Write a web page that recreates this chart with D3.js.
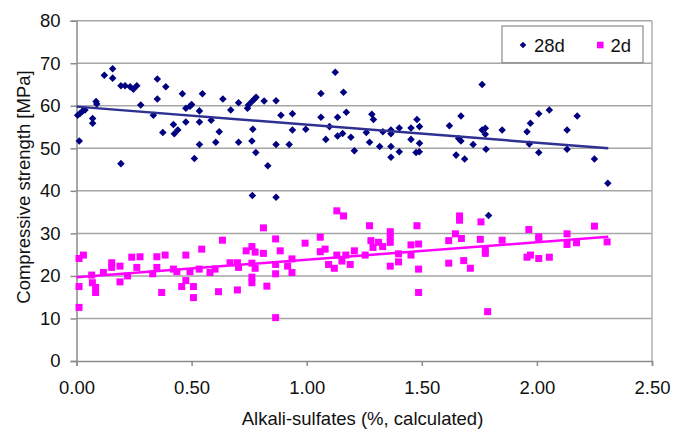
<!DOCTYPE html>
<html lang="en">
<head>
<meta charset="utf-8">
<script src="https://d3js.org/d3.v7.min.js"></script>
<style>
  body { margin: 0; background: #fff; }
  text { font-family: "Liberation Sans", Arial, sans-serif; fill: #111; }
</style>
<title>Compressive strength</title>
</head>
<body>
<div id="chart"></div>
<script>
// 28d compressive strength [alkali-sulfates %, MPa]
var strength28 = [
  [0.005,57.8],[0.015,58.2],[0.027,58.8],[0.037,59.0],[0.012,51.7],[0.07,57.0],[0.07,55.9],
  [0.085,61.0],[0.088,60.4],[0.121,67.2],[0.157,68.7],[0.157,66.5],[0.193,64.7],[0.211,64.7],
  [0.193,46.4],[0.233,64.5],[0.247,63.9],[0.262,64.7],[0.279,60.2],[0.334,57.8],[0.351,66.3],
  [0.351,61.6],[0.375,53.7],[0.388,64.5],[0.421,55.6],[0.425,53.4],[0.44,54.3],[0.46,62.8],
  [0.475,59.4],[0.475,56.2],[0.493,59.9],[0.50,60.3],[0.512,47.6],[0.534,58.8],[0.534,56.2],
  [0.534,50.9],[0.547,62.8],[0.585,56.6],[0.605,51.4],[0.62,53.9],[0.636,61.6],[0.67,59.0],
  [0.704,60.7],[0.704,51.4],[0.743,59.4],[0.747,60.2],[0.762,61.0],[0.773,61.6],[0.78,62.0],
  [0.766,54.5],[0.762,51.7],[0.779,49.0],[0.764,38.9],[0.815,61.1],[0.831,45.9],[0.867,61.2],
  [0.888,57.8],[0.867,50.9],[0.867,38.5],[0.924,50.9],[0.938,58.1],[0.938,54.3],[0.996,54.5],
  [1.062,62.9],[1.062,57.3],[1.083,52.1],[1.099,55.1],[1.124,67.9],[1.16,63.2],[1.134,57.3],
  [1.172,58.5],[1.134,52.9],[1.156,53.5],[1.192,52.6],[1.207,49.4],[1.259,53.7],[1.273,51.4],
  [1.283,58.0],[1.29,56.8],[1.317,50.4],[1.331,53.9],[1.366,54.3],[1.366,53.4],[1.366,50.4],
  [1.366,47.9],[1.402,54.8],[1.402,49.2],[1.453,54.8],[1.453,52.1],[1.479,56.8],[1.49,55.1],
  [1.49,51.2],[1.475,49.0],[1.489,49.2],[1.62,55.3],[1.67,57.6],[1.67,51.7],[1.66,52.3],
  [1.649,48.4],[1.686,47.5],[1.723,50.9],[1.762,65.0],[1.762,54.3],[1.776,54.7],[1.776,53.3],
  [1.779,49.8],[1.79,34.2],[1.849,54.3],[1.957,53.9],[1.972,55.9],[1.967,51.0],[2.008,58.1],
  [2.054,59.0],[2.008,49.0],[2.131,54.3],[2.131,49.8],[2.175,57.6],[2.25,47.5],[2.308,41.8]
];

// 2d compressive strength
var strength2 = [
  [0.011,24.1],[0.03,24.9],[0.011,17.5],[0.011,12.6],[0.066,20.2],[0.069,18.4],[0.083,17.3],
  [0.083,16.1],[0.117,20.8],[0.153,23.1],[0.153,22.0],[0.189,22.3],[0.189,18.6],[0.222,20.0],
  [0.24,24.4],[0.262,22.0],[0.276,24.5],[0.331,20.5],[0.349,24.5],[0.349,22.0],[0.37,16.1],
  [0.385,24.9],[0.421,21.6],[0.436,21.0],[0.457,17.5],[0.475,24.9],[0.475,18.9],[0.493,21.0],
  [0.508,17.5],[0.508,14.9],[0.533,21.6],[0.544,26.3],[0.58,20.8],[0.602,21.6],[0.617,16.3],
  [0.634,28.4],[0.667,23.1],[0.699,23.1],[0.704,22.0],[0.699,16.7],[0.737,25.9],[0.762,26.9],
  [0.776,25.6],[0.762,23.0],[0.776,21.8],[0.762,19.7],[0.762,18.4],[0.812,31.3],[0.812,25.3],
  [0.827,17.6],[0.865,28.7],[0.885,25.9],[0.865,22.7],[0.865,20.5],[0.865,10.2],[0.917,22.3],
  [0.936,24.0],[0.936,20.8],[0.993,27.7],[1.059,29.1],[1.059,25.7],[1.08,26.3],[1.095,22.7],
  [1.12,21.8],[1.131,35.3],[1.16,34.1],[1.131,24.9],[1.153,23.5],[1.17,24.9],[1.189,22.7],
  [1.207,25.9],[1.254,24.9],[1.273,31.8],[1.279,28.3],[1.288,26.7],[1.312,27.9],[1.33,26.9],
  [1.363,30.4],[1.363,29.2],[1.363,27.9],[1.363,22.3],[1.399,25.2],[1.399,23.3],[1.453,27.3],
  [1.453,24.9],[1.479,31.8],[1.486,27.5],[1.486,21.6],[1.486,16.1],[1.617,28.3],[1.617,23.0],
  [1.646,29.9],[1.664,34.1],[1.664,33.1],[1.672,28.8],[1.682,23.6],[1.711,21.8],[1.757,32.7],
  [1.754,28.6],[1.776,26.3],[1.776,25.3],[1.786,11.6],[1.849,28.4],[1.965,30.9],[1.957,24.4],
  [1.972,24.9],[2.008,29.2],[2.008,28.6],[2.008,24.1],[2.054,24.4],[2.131,29.9],[2.131,27.4],
  [2.172,27.8],[2.25,31.7],[2.305,28.0]
];

// linear trend lines (end points)
var trend28 = [[0, 59.8], [2.31, 50.0]];
var trend2 = [[0, 19.7], [2.31, 29.2]];

var xTicks = [0, 0.5, 1, 1.5, 2, 2.5];
var yTicks = [0, 10, 20, 30, 40, 50, 60, 70, 80];
var seriesNames = ["28d", "2d"];

var W = 673, H = 429;
var plotL = 76.5, plotR = 652, plotT = 20.7, plotB = 361;

var svg = d3.select("#chart").append("svg")
    .attr("width", W)
    .attr("height", H);

var x = d3.scaleLinear().domain([0, 2.5]).range([plotL, plotR]);
var y = d3.scaleLinear().domain([0, 80]).range([plotB, plotT]);

// gridlines
svg.append("g")
  .selectAll("line")
  .data(yTicks.slice(1))
  .enter().append("line")
    .attr("x1", plotL).attr("x2", plotR)
    .attr("y1", d => y(d)).attr("y2", d => y(d))
    .attr("stroke", "#a6a6a6")
    .attr("stroke-width", 1.5);

// right border
svg.append("line")
  .attr("x1", plotR).attr("x2", plotR)
  .attr("y1", plotT).attr("y2", plotB)
  .attr("stroke", "#b0b0b0").attr("stroke-width", 1.5);

// axes
var yAxis = svg.append("g")
  .attr("transform", "translate(" + plotL + ",0)")
  .call(d3.axisLeft(y).tickValues(yTicks).tickSize(6).tickPadding(10).tickFormat(d3.format("d")));
var xAxis = svg.append("g")
  .attr("transform", "translate(0," + plotB + ")")
  .call(d3.axisBottom(x).tickValues(xTicks).tickSize(5).tickPadding(15).tickFormat(d3.format(".2f")));

[xAxis, yAxis].forEach(function(a) {
  a.select(".domain").attr("stroke", "#8c8c8c").attr("stroke-width", 1.5);
  a.selectAll(".tick line").attr("stroke", "#8c8c8c").attr("stroke-width", 1.5);
  a.selectAll(".tick text").style("font-size", "18.5px").attr("fill", "#111");
});

// markers
var diamond = d3.symbol().type(d3.symbolDiamond2).size(36);
svg.append("g")
  .selectAll("path")
  .data(strength28)
  .enter().append("path")
    .attr("d", diamond)
    .attr("transform", d => "translate(" + x(d[0]) + "," + y(d[1]) + ")")
    .attr("fill", "#000080");

svg.append("g")
  .selectAll("rect")
  .data(strength2)
  .enter().append("rect")
    .attr("x", d => x(d[0]) - 3.5)
    .attr("y", d => y(d[1]) - 3.5)
    .attr("width", 7).attr("height", 7)
    .attr("fill", "#ff00ff");

// trend lines
var line = d3.line().x(d => x(d[0])).y(d => y(d[1]));
svg.append("path").attr("d", line(trend28))
  .attr("fill", "none").attr("stroke", "#2e3192").attr("stroke-width", 2.5);
svg.append("path").attr("d", line(trend2))
  .attr("fill", "none").attr("stroke", "#ff00ff").attr("stroke-width", 2.5);

// legend
var lg = svg.append("g");
lg.append("rect")
  .attr("x", 502).attr("y", 26).attr("width", 141).attr("height", 36.7)
  .attr("fill", "#fff").attr("stroke", "#8c8c8c").attr("stroke-width", 1.2);
lg.append("path").attr("d", d3.symbol().type(d3.symbolDiamond2).size(28))
  .attr("transform", "translate(523,45)").attr("fill", "#000080");
lg.append("text").attr("x", 534).attr("y", 51.5).style("font-size", "18.5px").text(seriesNames[0]);
lg.append("rect").attr("x", 597).attr("y", 41.7).attr("width", 6.6).attr("height", 6.6).attr("fill", "#ff00ff");
lg.append("text").attr("x", 610.5).attr("y", 51.5).style("font-size", "18.5px").text(seriesNames[1]);

// axis titles
svg.append("text")
  .attr("x", 362.5).attr("y", 425)
  .attr("text-anchor", "middle")
  .style("font-size", "18.5px")
  .text("Alkali-sulfates (%, calculated)");
svg.append("text")
  .attr("transform", "translate(29.5,187) rotate(-90)")
  .attr("text-anchor", "middle")
  .style("font-size", "18.5px")
  .text("Compressive strength [MPa]");
</script>
</body>
</html>
